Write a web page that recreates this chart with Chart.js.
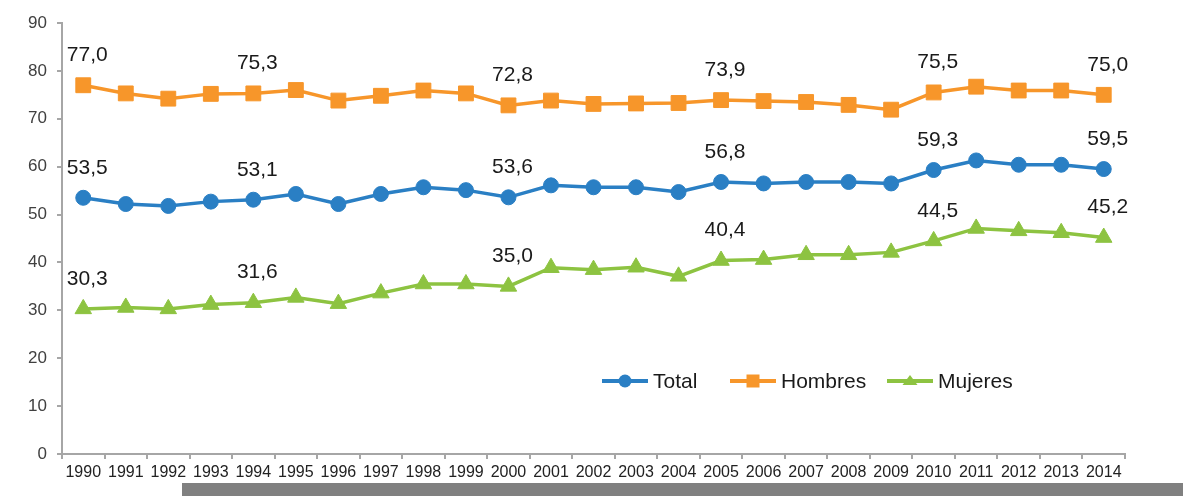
<!DOCTYPE html>
<html lang="es">
<head>
<meta charset="utf-8">
<title>Total, Hombres y Mujeres 1990-2014</title>
<script src="https://cdn.jsdelivr.net/npm/chart.js@4.4.1/dist/chart.umd.min.js"></script>
<style>
    html, body { margin: 0; padding: 0; background: #fff; }
    #contenedor { position: relative; width: 1183px; height: 496px; }
    #franja { position: absolute; left: 182px; top: 483px; width: 1001px; height: 13px; background: #808080; }
</style>
</head>
<body>
<div id="contenedor">
    <canvas id="grafico"></canvas>
    <div id="franja"></div>
</div>
<script>
// Datos
const anios = ['1990', '1991', '1992', '1993', '1994', '1995', '1996', '1997', '1998', '1999',
               '2000', '2001', '2002', '2003', '2004', '2005', '2006', '2007', '2008', '2009',
               '2010', '2011', '2012', '2013', '2014'];

const total = [53.5, 52.2, 51.8, 52.7, 53.1, 54.3, 52.2, 54.3, 55.7, 55.1,
               53.6, 56.1, 55.7, 55.7, 54.7, 56.8, 56.5, 56.8, 56.8, 56.5,
               59.3, 61.3, 60.4, 60.4, 59.5];

const hombres = [77.0, 75.3, 74.2, 75.2, 75.3, 76.0, 73.8, 74.8, 75.9, 75.3,
                 72.8, 73.8, 73.1, 73.2, 73.3, 73.9, 73.7, 73.5, 72.9, 71.9,
                 75.5, 76.7, 75.9, 75.9, 75.0];

const mujeres = [30.3, 30.6, 30.3, 31.2, 31.6, 32.7, 31.4, 33.6, 35.5, 35.5,
                 35.0, 38.9, 38.5, 39.0, 37.1, 40.4, 40.6, 41.6, 41.6, 42.1,
                 44.5, 47.1, 46.6, 46.2, 45.2];

// Puntos que llevan etiqueta de valor
const indicesEtiquetados = [0, 4, 10, 15, 20, 24];

// Marcas del eje Y
const yMin = 0;
const yMax = 90;
const yPaso = 10;

// Colores de las series
const azul = '#2A7FC4';
const naranja = '#F7962A';
const verde = '#8DC341';

const fuente = '"Liberation Sans", Arial, sans-serif';

function formatoComa(valor) {
    return valor.toFixed(1).replace('.', ',');
}

// Etiquetas de valor sobre algunos puntos
const etiquetasPlugin = {
    id: 'etiquetas',
    afterDatasetsDraw(chart) {
        const ctx = chart.ctx;
        ctx.save();
        ctx.font = '21px ' + fuente;
        ctx.fillStyle = '#1a1a1a';
        ctx.textAlign = 'center';
        ctx.textBaseline = 'middle';
        chart.data.datasets.forEach((ds, i) => {
            const meta = chart.getDatasetMeta(i);
            indicesEtiquetados.forEach(idx => {
                const p = meta.data[idx];
                ctx.fillText(formatoComa(ds.data[idx]), p.x + 4, p.y - 30);
            });
        });
        ctx.restore();
    }
};

// Leyenda dibujada dentro del área del gráfico (línea + marcador)
const leyendaPlugin = {
    id: 'leyenda',
    afterDraw(chart) {
        const ctx = chart.ctx;
        const y = 381;
        const inicios = [602, 730, 887];
        ctx.save();
        chart.data.datasets.forEach((ds, i) => {
            const x0 = inicios[i];
            const x1 = x0 + 46;
            const cx = (x0 + x1) / 2;
            ctx.strokeStyle = ds.borderColor;
            ctx.fillStyle = ds.borderColor;
            ctx.lineWidth = 4;
            ctx.beginPath();
            ctx.moveTo(x0, y);
            ctx.lineTo(x1, y);
            ctx.stroke();
            ctx.beginPath();
            if (ds.pointStyle === 'circle') {
                ctx.arc(cx, y, 6.5, 0, Math.PI * 2);
            } else if (ds.pointStyle === 'rect') {
                ctx.rect(cx - 6.5, y - 6.5, 13, 13);
            } else {
                ctx.moveTo(cx, y - 6);
                ctx.lineTo(cx + 7.5, y + 4);
                ctx.lineTo(cx - 7.5, y + 4);
                ctx.closePath();
            }
            ctx.fill();
            ctx.fillStyle = '#1a1a1a';
            ctx.font = '21px ' + fuente;
            ctx.textAlign = 'left';
            ctx.textBaseline = 'middle';
            ctx.fillText(ds.label, x1 + 5, y + 1);
        });
        ctx.restore();
    }
};

function crearGrafico() {
    const ctx = document.getElementById('grafico').getContext('2d');

    new Chart(ctx, {
        type: 'line',
        data: {
            labels: anios,
            datasets: [
                {
                    label: 'Total',
                    data: total,
                    borderColor: azul,
                    backgroundColor: azul,
                    borderWidth: 3.5,
                    pointStyle: 'circle',
                    pointRadius: 7.5,
                    pointBorderWidth: 1,
                    tension: 0
                },
                {
                    label: 'Hombres',
                    data: hombres,
                    borderColor: naranja,
                    backgroundColor: naranja,
                    borderWidth: 3.5,
                    pointStyle: 'rect',
                    pointRadius: 10.5,
                    pointBorderWidth: 1,
                    tension: 0
                },
                {
                    label: 'Mujeres',
                    data: mujeres,
                    borderColor: verde,
                    backgroundColor: verde,
                    borderWidth: 3.5,
                    pointStyle: 'triangle',
                    pointRadius: 9.5,
                    pointBorderWidth: 1,
                    tension: 0
                }
            ]
        },
        options: {
            responsive: true,
            maintainAspectRatio: false,
            animation: false,
            layout: {
                padding: { top: 23, right: 58, left: 0, bottom: 0 }
            },
            plugins: {
                legend: { display: false },
                tooltip: { enabled: false }
            },
            scales: {
                x: {
                    offset: true,
                    grid: {
                        offset: true,
                        drawOnChartArea: false,
                        tickLength: 5,
                        color: '#a6a6a6',
                        lineWidth: 2
                    },
                    border: { color: '#a6a6a6', width: 2 },
                    ticks: {
                        autoSkip: false,
                        maxRotation: 0,
                        padding: 4,
                        color: '#222',
                        font: { family: fuente, size: 16 }
                    },
                    afterFit(scale) { scale.height = 42; }
                },
                y: {
                    min: yMin,
                    max: yMax,
                    grid: {
                        drawOnChartArea: false,
                        tickLength: 5,
                        color: '#a6a6a6',
                        lineWidth: 2
                    },
                    border: { color: '#a6a6a6', width: 2 },
                    ticks: {
                        stepSize: yPaso,
                        padding: 10,
                        color: '#404040',
                        font: { family: fuente, size: 17 }
                    },
                    afterFit(scale) { scale.width = 62; }
                }
            }
        },
        plugins: [etiquetasPlugin, leyendaPlugin]
    });
}

crearGrafico();
</script>
</body>
</html>
